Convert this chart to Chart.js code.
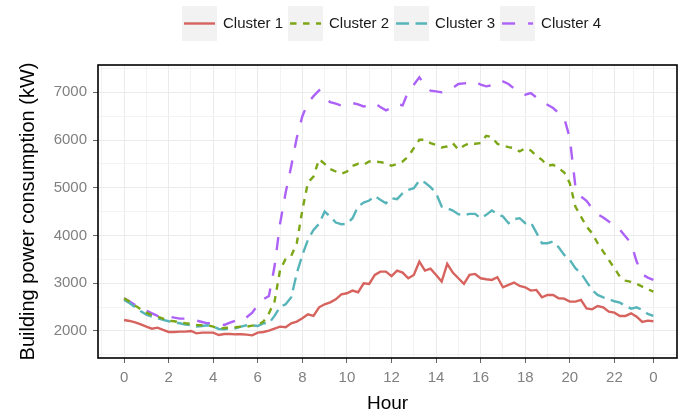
<!DOCTYPE html>
<html lang="en">

<head>
    <meta charset="UTF-8" />
    <title>Building power consumption by cluster</title>
    <script src="https://cdn.jsdelivr.net/npm/chart.js"></script>
    <style>
        body { margin: 0; background: #fff; }
        #wrap { width: 688px; height: 416px; position: relative; }
    </style>
</head>

<body>
    <div id="wrap"><canvas id="powerChart"></canvas></div>

    <script>
        // 15-minute readings over one day
        const hours = Array.from({ length: 96 }, (_, i) => i / 4);

        const clusterNames = ['Cluster 1', 'Cluster 2', 'Cluster 3', 'Cluster 4'];

        const cluster1 = [
            2231, 2210, 2182, 2140, 2091, 2049, 2070, 2021, 1979, 1979, 1986, 1986,
            2000, 1951, 1965, 1965, 1965, 1916, 1937, 1937, 1930, 1930, 1923, 1909,
            1965, 1979, 2007, 2049, 2091, 2077, 2161, 2196, 2266, 2350, 2315, 2496,
            2559, 2601, 2664, 2769, 2790, 2846, 2811, 3000, 2986, 3174, 3244, 3244,
            3150, 3265, 3223, 3104, 3174, 3454, 3265, 3307, 3174, 3035, 3405, 3223,
            3104, 2986, 3174, 3195, 3104, 3083, 3069, 3125, 2916, 2965, 3014, 2944,
            2916, 2846, 2860, 2706, 2755, 2755, 2685, 2678, 2615, 2615, 2650, 2475,
            2454, 2524, 2496, 2405, 2384, 2315, 2315, 2370, 2300, 2189, 2217, 2203
        ];
        const cluster2 = [
            2685, 2615, 2531, 2454, 2384, 2329, 2301, 2259, 2217, 2203, 2182, 2161,
            2147, 2126, 2119, 2119, 2091, 2049, 2063, 2070, 2077, 2091, 2091, 2112,
            2126, 2196, 2370, 2615, 3279, 3510, 3573, 3838, 4537, 5111, 5236, 5600,
            5502, 5390, 5341, 5292, 5341, 5460, 5502, 5481, 5551, 5551, 5537, 5516,
            5460, 5502, 5551, 5656, 5831, 6005, 6005, 5935, 5900, 5845, 5866, 5935,
            5796, 5880, 5935, 5921, 5935, 6089, 6061, 5921, 5880, 5852, 5831, 5761,
            5831, 5782, 5670, 5586, 5460, 5481, 5411, 5320, 5097, 4607, 4398, 4188,
            4048, 3838, 3664, 3489, 3314, 3139, 3055, 3027, 2986, 2930, 2874, 2825
        ];
        const cluster3 = [
            2650, 2580, 2496, 2412, 2343, 2301, 2266, 2231, 2203, 2182, 2161, 2133,
            2119, 2091, 2105, 2119, 2091, 2042, 2035, 2049, 2056, 2091, 2119, 2119,
            2105, 2161, 2161, 2315, 2510, 2559, 2706, 3209, 3594, 3908, 4118, 4244,
            4502, 4397, 4272, 4237, 4244, 4363, 4607, 4691, 4733, 4831, 4747, 4677,
            4782, 4761, 4887, 4957, 4992, 5152, 5110, 5013, 4887, 4607, 4572, 4523,
            4447, 4426, 4454, 4454, 4363, 4433, 4523, 4454, 4398, 4258, 4342, 4363,
            4258, 4272, 4062, 3838, 3838, 3873, 3754, 3594, 3489, 3314, 3209, 3035,
            2860, 2755, 2706, 2664, 2622, 2594, 2524, 2468, 2496, 2440, 2357, 2315
        ];
        const cluster4 = [
            2685, 2615, 2545, 2475, 2426, 2370, 2315, 2301, 2301, 2280, 2259, 2259,
            2245, 2217, 2189, 2161, 2161, 2140, 2126, 2175, 2217, 2196, 2287, 2385,
            2545, 2664, 2734, 3350, 4250, 4900, 5450, 6050, 6500, 6780, 6920, 7040,
            6880, 6796, 6761, 6719, 6733, 6774, 6747, 6704, 6719, 6774, 6690, 6621,
            6670, 6754, 6726, 7020, 7160, 7314, 7146, 7034, 7020, 6999, 7034, 7090,
            7174, 7188, 7195, 7230, 7160, 7125, 7146, 7230, 7230, 7174, 7076, 7020,
            6950, 6985, 6894, 6796, 6740, 6670, 6565, 6460, 6041, 5027, 4817, 4726,
            4572, 4446, 4377, 4293, 4223, 4118, 3978, 3838, 3454, 3188, 3118, 3069
        ];

        // x axis: labelled hours, last label sits on the final reading (23:45)
        const hourTicks = [0, 2, 4, 6, 8, 10, 12, 14, 16, 18, 20, 22, 23.75];
        const hourTickLabels = ['0', '2', '4', '6', '8', '10', '12', '14', '16', '18', '20', '22', '0'];
        const hourMinorTicks = [-1, 1, 3, 5, 7, 9, 11, 13, 15, 17, 19, 21, 22.875];

        const powerTicks = [2000, 3000, 4000, 5000, 6000, 7000];
        const powerMinorTicks = [1500, 2500, 3500, 4500, 5500, 6500, 7500];

        const colors = ['#D6635D', '#7CA616', '#57B5BA', '#AD62F7'];
        const dashes = [[], [6.5, 6.5], [13, 6.5], [13, 13]];

        Chart.defaults.font.family = '"Liberation Sans", Arial, sans-serif';

        const series = [cluster1, cluster2, cluster3, cluster4];
        const datasets = series.map((vals, k) => ({
            label: clusterNames[k],
            data: vals.map((v, i) => ({ x: hours[i], y: v })),
            borderColor: colors[k],
            borderDash: dashes[k],
            borderWidth: 2.4,
            pointRadius: 0,
            tension: 0,
            fill: false
        }));

        function withMinor(major, minor) {
            return major.concat(minor).sort((a, b) => a - b).map(v => ({ value: v }));
        }

        // ggplot-like legend: grey key boxes above the panel
        const topLegend = {
            id: 'topLegend',
            afterDraw(chart) {
                const ctx = chart.ctx;
                ctx.save();
                ctx.font = '15px "Liberation Sans", Arial, sans-serif';
                ctx.textBaseline = 'middle';
                let x = 182;
                const keyW = 35, keyTop = 6, keyH = 35, cy = 24;
                chart.data.datasets.forEach(ds => {
                    ctx.fillStyle = '#F2F2F2';
                    ctx.fillRect(x, keyTop, keyW, keyH);
                    ctx.strokeStyle = ds.borderColor;
                    ctx.lineWidth = ds.borderWidth;
                    ctx.setLineDash(ds.borderDash);
                    ctx.beginPath();
                    ctx.moveTo(x + 2, cy - 0.5);
                    ctx.lineTo(x + keyW - 2, cy - 0.5);
                    ctx.stroke();
                    ctx.setLineDash([]);
                    ctx.fillStyle = '#1A1A1A';
                    ctx.fillText(ds.label, x + keyW + 6, cy);
                    x += keyW + 6 + ctx.measureText(ds.label).width + 5;
                });
                ctx.restore();
            }
        };

        // black panel border drawn over the lines
        const panelBorder = {
            id: 'panelBorder',
            afterDatasetsDraw(chart) {
                const { left, top, right, bottom } = chart.chartArea;
                const ctx = chart.ctx;
                ctx.save();
                ctx.strokeStyle = '#000';
                ctx.lineWidth = 1.6;
                ctx.strokeRect(left, top, right - left, bottom - top);
                ctx.restore();
            }
        };

        new Chart(document.getElementById('powerChart'), {
            type: 'line',
            data: { datasets },
            plugins: [topLegend, panelBorder],
            options: {
                responsive: true,
                maintainAspectRatio: false,
                animation: false,
                layout: { padding: { left: 0, right: 11, top: 65, bottom: 0 } },
                plugins: { legend: { display: false }, tooltip: { enabled: false } },
                scales: {
                    x: {
                        type: 'linear',
                        min: -1.17,
                        max: 24.81,
                        afterBuildTicks: s => { s.ticks = withMinor(hourTicks, hourMinorTicks); },
                        afterFit: s => { s.height = 58; },
                        ticks: {
                            autoSkip: false,
                            maxRotation: 0,
                            padding: 6,
                            color: '#808080',
                            font: { size: 15 },
                            callback: v => {
                                const i = hourTicks.indexOf(v);
                                return i >= 0 ? hourTickLabels[i] : '';
                            }
                        },
                        grid: {
                            color: c => hourTicks.includes(c.tick.value) ? '#EBEBEB' : '#F3F3F3',
                            tickColor: c => hourTicks.includes(c.tick.value) ? '#666' : 'rgba(0,0,0,0)',
                            tickLength: 5
                        },
                        border: { display: false },
                        title: {
                            display: true,
                            text: 'Hour',
                            color: '#000',
                            font: { size: 19 },
                            padding: { top: 0, bottom: 1 }
                        }
                    },
                    y: {
                        min: 1434,
                        max: 7572,
                        afterBuildTicks: s => { s.ticks = withMinor(powerTicks, powerMinorTicks); },
                        afterFit: s => { s.width = 98; },
                        ticks: {
                            autoSkip: false,
                            padding: 6,
                            color: '#808080',
                            font: { size: 15 },
                            callback: v => powerTicks.includes(v) ? String(v) : ''
                        },
                        grid: {
                            color: c => powerTicks.includes(c.tick.value) ? '#EBEBEB' : '#F3F3F3',
                            tickColor: c => powerTicks.includes(c.tick.value) ? '#666' : 'rgba(0,0,0,0)',
                            tickLength: 5
                        },
                        border: { display: false },
                        title: {
                            display: true,
                            text: 'Building power consumption (kW)',
                            color: '#000',
                            font: { size: 20 },
                            padding: { top: 16, bottom: 0 }
                        }
                    }
                }
            }
        });
    </script>
</body>

</html>
